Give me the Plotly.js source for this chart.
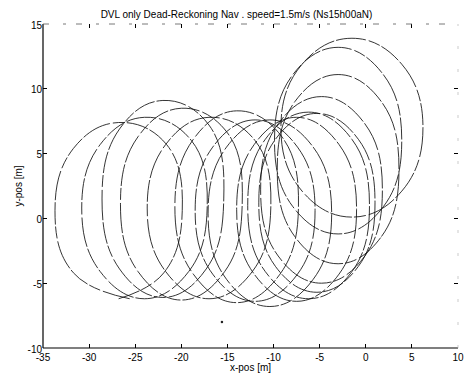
<!DOCTYPE html>
<html>
<head>
<meta charset="utf-8">
<script src="https://cdn.plot.ly/plotly-3.0.1.min.js"></script>
<style>html,body{margin:0;padding:0;background:#fff;}#chart{width:473px;height:373px;}</style>
</head>
<body>
<div id="chart"></div>
<script>
// Trajectory loops (x-pos [m], y-pos [m])
const loop1X = [-26.8, -21.9, -19.9, -21.6, -26.8, -31.7, -33.7, -31.7, -25.6];
const loop1Y = [-6.2, -4.2, 0.6, 5.7, 7.4, 5.4, 0.6, -4.2, -6.2];
const loop2X = [-24.0, -19.2, -17.2, -18.9, -24.0, -28.8, -30.8, -28.8, -24.0];
const loop2Y = [-6.2, -4.1, 0.8, 6.0, 7.8, 5.7, 0.8, -4.1, -6.2];
const loop3X = [-22.0, -17.3, -15.4, -17.0, -22.0, -26.7, -28.6, -26.7, -22.0];
const loop3Y = [-6.1, -3.9, 1.5, 7.2, 9.1, 6.9, 1.5, -3.9, -6.1];
const loop4X = [-20.0, -15.3, -13.4, -15.0, -20.0, -24.7, -26.6, -24.7, -20.0];
const loop4Y = [-6.3, -4.1, 1.1, 6.6, 8.5, 6.3, 1.1, -4.1, -6.3];
const loop5X = [-17.0, -12.3, -10.3, -12.0, -17.0, -21.7, -23.7, -21.7, -17.0];
const loop5Y = [-6.2, -4.1, 0.8, 6.0, 7.8, 5.7, 0.8, -4.1, -6.2];
const loop6X = [-14.0, -9.3, -7.3, -9.1, -14.0, -18.7, -20.7, -18.7, -14.0];
const loop6Y = [-6.5, -4.3, 0.9, 6.3, 8.3, 6.1, 0.9, -4.3, -6.5];
const loop7X = [-12.0, -7.4, -5.5, -7.4, -12.0, -16.6, -18.5, -16.6, -12.0];
const loop7Y = [-6.4, -4.3, 0.6, 5.5, 7.6, 5.5, 0.6, -4.3, -6.4];
const loop8X = [-10.4, -5.7, -3.7, -5.7, -10.4, -15.1, -17.1, -15.1, -10.4];
const loop8Y = [-6.8, -4.7, 0.4, 5.5, 7.6, 5.5, 0.4, -4.7, -6.8];
const loop9X = [-7.5, -2.9, -1.0, -2.9, -7.5, -12.1, -14.0, -12.1, -7.5];
const loop9Y = [-6.4, -4.3, 0.7, 5.7, 7.8, 5.7, 0.7, -4.3, -6.4];
const loop10X = [-6.2, -1.5, 0.4, -1.5, -6.2, -10.9, -12.8, -10.9, -6.2];
const loop10Y = [-6.2, -4.1, 1.0, 6.1, 8.2, 6.1, 1.0, -4.1, -6.2];
const loop11X = [-5.3, -0.8, 1.0, -0.8, -5.3, -9.8, -11.6, -9.8, -5.3];
const loop11Y = [-5.7, -3.7, 1.2, 6.1, 8.1, 6.1, 1.2, -3.7, -5.7];
const loop12X = [-4.8, -0.1, 1.8, -0.1, -4.8, -9.5, -11.4, -9.5, -4.8];
const loop12Y = [-5.0, -2.9, 2.2, 7.3, 9.4, 7.3, 2.2, -2.9, -5.0];
const loop13X = [-3.0, 1.7, 3.6, 1.7, -3.0, -7.7, -9.6, -7.7, -3.0];
const loop13Y = [-3.5, -1.4, 3.8, 9.0, 11.1, 9.0, 3.8, -1.4, -3.5];
const loop14X = [-3.0, 1.9, 3.9, 1.9, -3.0, -7.9, -9.9, -7.9, -3.0];
const loop14Y = [-1.2, 0.9, 6.0, 11.1, 13.2, 11.1, 6.0, 0.9, -1.2];
const loop15X = [-1.5, 3.9, 6.2, 3.9, -1.5, -6.9, -9.2, -6.9, -1.5];
const loop15Y = [0.1, 2.1, 7.0, 11.9, 13.9, 11.9, 7.0, 2.1, 0.1];
const strayX = [-15.6];
const strayY = [-8.0];

const xTicks = [-35, -30, -25, -20, -15, -10, -5, 0, 5, 10];
const yTicks = [-10, -5, 0, 5, 10, 15];

const loopsX = [loop1X, loop2X, loop3X, loop4X, loop5X, loop6X, loop7X, loop8X, loop9X, loop10X, loop11X, loop12X, loop13X, loop14X, loop15X];
const loopsY = [loop1Y, loop2Y, loop3Y, loop4Y, loop5Y, loop6Y, loop7Y, loop8Y, loop9Y, loop10Y, loop11Y, loop12Y, loop13Y, loop14Y, loop15Y];

const traces = loopsX.map((xs, i) => ({
  type: 'scatter', mode: 'lines', x: xs, y: loopsY[i],
  line: {color: '#111', width: 0.85, shape: 'spline', smoothing: 1.2, dash: '22px,2px,12px,3px,30px,2px'},
  hoverinfo: 'skip', showlegend: false
}));
traces.push({type: 'scatter', mode: 'markers', x: strayX, y: strayY,
  marker: {color: '#222', size: 2.5}, showlegend: false, hoverinfo: 'skip'});

const fontBase = {family: 'Liberation Sans, Arial, sans-serif', size: 10, color: '#000'};

const layout = {
  width: 473, height: 373,
  margin: {l: 43, r: 15, t: 24, b: 25, pad: 0},
  paper_bgcolor: '#fff', plot_bgcolor: '#fff',
  font: fontBase,
  showlegend: false,
  title: {text: 'DVL only Dead-Reckoning Nav . speed=1.5m/s (Ns15h00aN)', font: {family: fontBase.family, size: 10, color: '#000'},
          x: 0.5, xanchor: 'center', yref: 'container', y: 1 - 14/373, yanchor: 'middle'},
  xaxis: {
    range: [-35, 10], tickvals: xTicks, ticktext: xTicks.map(String),
    showgrid: false, zeroline: false, showline: false,
    ticks: 'inside', ticklen: 4, tickcolor: '#000', tickwidth: 1, mirror: 'ticks',
    tickfont: fontBase, ticklabelstandoff: 2,
    title: {text: 'x-pos [m]', font: fontBase, standoff: 0}
  },
  yaxis: {
    range: [-10, 15], tickvals: yTicks, ticktext: yTicks.map(String),
    showgrid: false, zeroline: false, showline: false,
    ticks: 'inside', ticklen: 4, tickcolor: '#000', tickwidth: 1, mirror: 'ticks',
    tickfont: fontBase, ticklabelshift: 1,
    title: {text: 'y-pos [m]', font: fontBase, standoff: 3}
  },
  shapes: [
    {type: 'line', xref: 'paper', yref: 'paper', x0: 0, x1: 1, y0: 0, y1: 0, line: {color: '#000', width: 1.2}},
    {type: 'line', xref: 'paper', yref: 'paper', x0: 0, x1: 0, y0: 0, y1: 1, line: {color: '#000', width: 1.2}},
    {type: 'line', xref: 'paper', yref: 'paper', x0: 0, x1: 1, y0: 1, y1: 1, line: {color: '#555', width: 0.8, dash: '6px,14px,3px,10px'}},
    {type: 'line', xref: 'paper', yref: 'paper', x0: 1, x1: 1, y0: 0, y1: 1, line: {color: '#aaa', width: 0.6, dash: '3px,20px'}}
  ]
};

Plotly.newPlot('chart', traces, layout, {staticPlot: true, displayModeBar: false});
</script>
</body>
</html>
